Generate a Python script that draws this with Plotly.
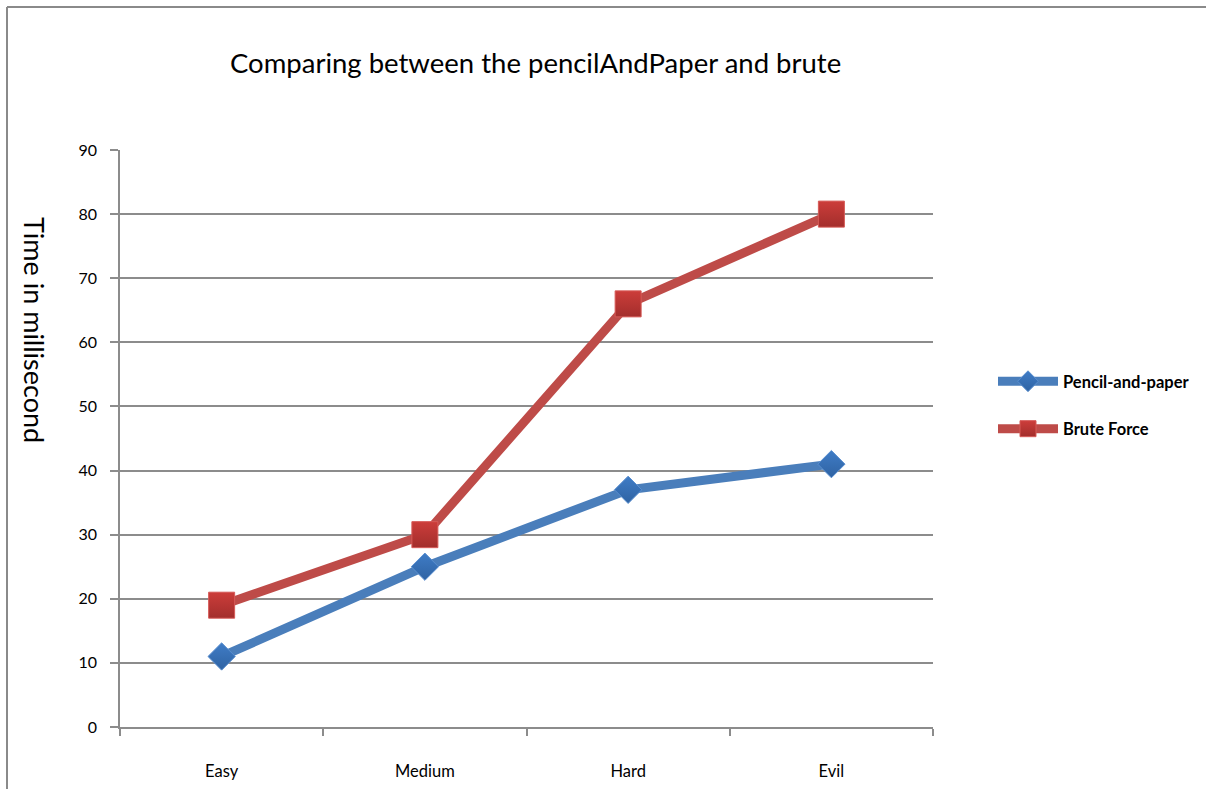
import plotly.graph_objects as go

categories = ["Easy", "Medium", "Hard", "Evil"]
pencil = [11, 25, 37, 41]
brute = [19, 30, 66, 80]
y_ticks = [0, 10, 20, 30, 40, 50, 60, 70, 80, 90]

W, H = 1206, 789
ML, MR, MT, MB = 120, 273, 150, 62
PW, PH = W - ML - MR, H - MT - MB

def px_x(x):
    return (x - ML) / PW

def px_y(y):
    return (H - MB - y) / PH

FONT = "Lato"
GRID = "#8c8c8c"

fig = go.Figure()
fig.add_trace(go.Scatter(
    x=categories, y=pencil, name="Pencil-and-paper", mode="lines+markers",
    legendgroup="a",
    line=dict(color="#4a7ebb", width=9),
    marker=dict(symbol="diamond", size=21, color="#3f7cc6",
                gradient=dict(type="vertical", color="#2f63a3"),
                line=dict(color="#5a8fd0", width=1)),
))
fig.add_trace(go.Scatter(
    x=categories, y=brute, name="Brute Force", mode="lines+markers",
    legendgroup="b",
    line=dict(color="#be4b48", width=9),
    marker=dict(symbol="square", size=26, color="#cc3d3a",
                gradient=dict(type="vertical", color="#a32e2c"),
                line=dict(color="#d65a57", width=1)),
))

fig.update_layout(
    width=W, height=H,
    margin=dict(l=ML, r=MR, t=MT, b=MB, pad=0, autoexpand=False),
    paper_bgcolor="white", plot_bgcolor="white",
    font=dict(family=FONT, size=16, color="black"),
    showlegend=True,
    legend=dict(x=px_x(993), y=px_y(364), xanchor="left", yanchor="top",
                font=dict(family=FONT, size=16.5, color="black", weight="bold"),
                itemwidth=60, tracegroupgap=23, bgcolor="rgba(0,0,0,0)"),
    xaxis=dict(type="category", range=[-0.5, 3.5], showgrid=False, showline=True,
               linecolor=GRID, linewidth=1.5, ticks="outside", tickson="boundaries",
               ticklen=7, tickcolor=GRID, tickwidth=1.5, ticklabelstandoff=28,
               tickfont=dict(family=FONT, size=16.5), zeroline=False, automargin=False),
    yaxis=dict(range=[0, 90], tickvals=y_ticks, showgrid=True, gridcolor=GRID,
               gridwidth=1.5, showline=True, linecolor=GRID, linewidth=1.5,
               ticks="outside", ticklen=8, tickcolor=GRID, tickwidth=1.5,
               ticklabelstandoff=10, tickfont=dict(family=FONT, size=16),
               zeroline=False, automargin=False),
    annotations=[
        dict(text="Comparing between the pencilAndPaper and brute", x=px_x(535),
             y=px_y(63), xref="paper", yref="paper", showarrow=False,
             font=dict(family=FONT, size=27.5, color="black"), xanchor="center", yanchor="middle"),
        dict(text="Time in millisecond", x=px_x(35), y=px_y(330), xref="paper",
             yref="paper", showarrow=False, textangle=90,
             font=dict(family=FONT, size=27, color="black"), xanchor="center", yanchor="middle"),
    ],
    shapes=[
        dict(type="line", xref="paper", yref="paper", x0=px_x(7), x1=px_x(W),
             y0=px_y(7), y1=px_y(7), line=dict(color="#8a8a8a", width=2)),
        dict(type="line", xref="paper", yref="paper", x0=px_x(7), x1=px_x(7),
             y0=px_y(7), y1=px_y(H), line=dict(color="#8a8a8a", width=2)),
    ],
)

fig.write_html("out.html")
